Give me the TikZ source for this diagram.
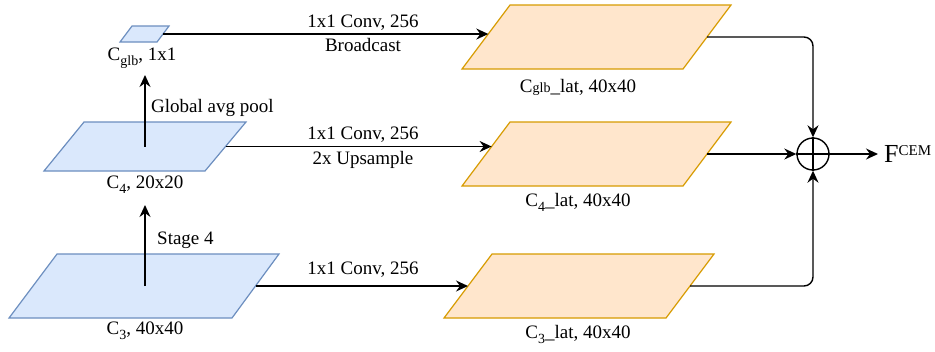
\documentclass[tikz,border=0pt]{standalone}
\usepackage{fontspec}
\setmainfont{Liberation Serif}
\usetikzlibrary{arrows.meta}
\definecolor{bluefill}{HTML}{DAE8FC}
\definecolor{bluedraw}{HTML}{6C8EBF}
\definecolor{orfill}{HTML}{FFE6CC}
\definecolor{ordraw}{HTML}{D79B00}
\newcommand\lowsub[1]{\raisebox{-5pt}{\fontsize{14}{14}\selectfont #1}}
\begin{document}
\begin{tikzpicture}[x=1pt,y=-1pt,
  feat/.style={draw=bluedraw,fill=bluefill,line width=1.2pt},
  latbox/.style={draw=ordraw,fill=orfill,line width=1.2pt},
  conn/.style={line width=1.4pt,-{Stealth[length=12pt,width=11pt,inset=4pt]}},
  plain/.style={line width=1.4pt},
  lbl/.style={font=\fontsize{19}{22}\selectfont, inner sep=0pt},
]
\useasboundingbox (0,0) rectangle (935,351);

% blue feature maps
\draw[feat] (120,42) -- (157,42) -- (169,26) -- (132,26) -- cycle;
\coordinate (glbC) at (144.5,34); \coordinate (glbR) at (163,34);
\draw[feat] (44,171) -- (205,171) -- (246,122) -- (84,122) -- cycle;
\coordinate (c4C) at (145,146.5); \coordinate (c4R) at (225.5,146.5);
\draw[feat] (9,318) -- (232,318) -- (279,254) -- (57,254) -- cycle;
\coordinate (c3C) at (145,286); \coordinate (c3R) at (255.5,286);

% orange lateral maps
\draw[latbox] (462,69) -- (683,69) -- (731,5) -- (510,5) -- cycle;
\coordinate (l1in) at (488.3,34); \coordinate (l1R) at (707,37);
\draw[latbox] (462,186) -- (683,186) -- (731,122) -- (510,122) -- cycle;
\coordinate (l2in) at (491.6,146.5); \coordinate (l2R) at (707,154);
\draw[latbox] (444,318) -- (666,318) -- (714,254) -- (492,254) -- cycle;
\coordinate (l3in) at (468,286); \coordinate (l3R) at (690,286);

% labels
\node[lbl] (lglb) at (142,58) {C\lowsub{glb}, 1x1};
\node[lbl] (lc4) at (145,185) {C\lowsub{4}, 20x20};
\node[lbl] (lc3) at (145,331) {C\lowsub{3}, 40x40};
\node[lbl] (ll1) at (578,87) {C{\fontsize{14}{14}\selectfont glb}\_lat, 40x40};
\node[lbl] (ll2) at (578,202) {C\lowsub{4}\_lat, 40x40};
\node[lbl] (ll3) at (578,334) {C\lowsub{3}\_lat, 40x40};
\node[lbl,anchor=west] (gap) at (151,108) {Global avg pool};
\node[lbl,anchor=west] (st4) at (157,240) {Stage 4};
\node[lbl] (e1a) at (363,23) {1x1 Conv, 256};
\node[lbl] (e1b) at (363,45) {Broadcast};
\node[lbl] (e2a) at (363,135) {1x1 Conv, 256};
\node[lbl] (e2b) at (363,160) {2x Upsample};
\node[lbl] (e3a) at (363,270) {1x1 Conv, 256};

% vertical arrows
\coordinate (gapTip) at (145,75);
\coordinate (st4Tip) at (145,205);
\draw[conn] (c4C) -- (gapTip);
\draw[conn] (c3C) -- (st4Tip);

% horizontal arrows
\draw[conn] (glbR) -- (l1in);
\draw[conn] (c4R) -- (l2in);
\draw[conn] (c3R) -- (l3in);

% sum node
\node[draw,circle,line width=1.4pt,minimum size=32pt,inner sep=0pt] (sum) at (813,154) {};
\draw[plain] (sum.north) -- (sum.south);
\draw[plain] (sum.west) -- (sum.east);

\draw[conn,rounded corners=9pt] (l1R) -| (sum.north);
\draw[conn] (l2R) -- (sum.west);
\draw[conn,rounded corners=9pt] (l3R) -| (sum.south);

\node[inner sep=0pt,anchor=west] (out) at (884,154) {\fontsize{26}{26}\selectfont F\raisebox{7pt}{\fontsize{15}{15}\selectfont CEM}};
\draw[conn] (sum.east) -- (out.west -| 878,0);
\end{tikzpicture}
\end{document}
